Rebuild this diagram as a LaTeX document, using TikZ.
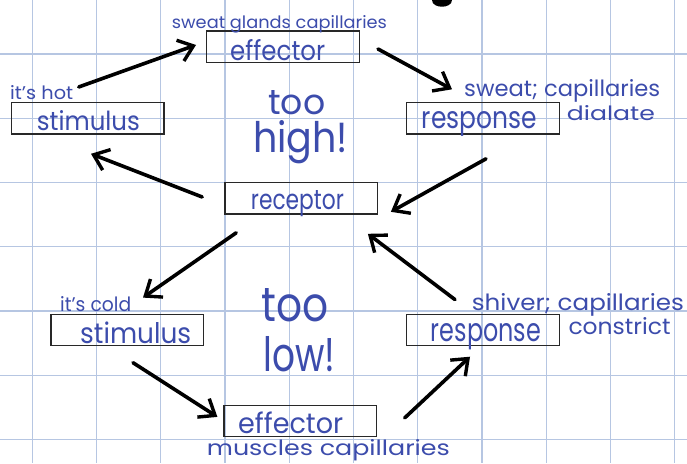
\documentclass[tikz,border=0pt]{standalone}
\usepackage{fontspec}
\setmainfont{Poppins}
\usetikzlibrary{arrows.meta}
\definecolor{ink}{RGB}{60,76,172}
\definecolor{gridc}{RGB}{182,198,226}
\definecolor{boxc}{RGB}{40,40,40}
\newcommand{\hw}[3]{\resizebox{#1pt}{#2pt}{#3}}
\begin{document}
\begin{tikzpicture}[x=1pt,y=-1pt,
  box/.style={draw=boxc,line width=1.4pt,minimum width=152.6pt,minimum height=31.4pt,inner sep=0pt},
  txt/.style={text=ink,inner sep=0pt,anchor=base west},
  arr/.style={line width=3.6pt,line cap=round,line join=round,
    -{Straight Barb[length=14pt,width=22pt,line width=3.4pt]}}]
\useasboundingbox (0,0) rectangle (687,463);
\fill[white] (0,0) rectangle (687,463);
% grid paper
\foreach \i in {0,...,10}
  \draw[gridc,line width=1.2pt] ({32.3+64.25*\i},0) -- ({32.3+64.25*\i},463);
\foreach \j in {0,...,6}
  \draw[gridc,line width=1.2pt] (0,{54+64.25*\j}) -- (687,{54+64.25*\j});
% stray mark at top
\fill[black] (432,0) .. controls (432,9) and (452,9) .. (452,0) -- cycle;
% boxes
\node[box] (eff1)  at (283,46.5)   {};
\node[box] (stim1) at (87.7,118.4) {};
\node[box] (resp1) at (483,118.4)  {};
\node[box] (rec)   at (301.2,198.4){};
\node[box] (stim2) at (127.3,330)  {};
\node[box] (eff2)  at (300.4,420.9){};
\node[box] (resp2) at (483,330)    {};
% labels
\node[txt] (teff1)  at (230,60)    {\hw{95}{21}{effector}};
\node[txt] (tsg)    at (171.7,28.3){\hw{215}{13}{sweat glands capillaries}};
\node[txt] (tstim1) at (36.7,130)  {\hw{103}{20}{stimulus}};
\node[txt] (thot)   at (10,99)     {\hw{63}{14}{it's hot}};
\node[txt] (ttoo1)  at (268,114.5) {\hw{57}{24}{too}};
\node[txt] (thigh)  at (253,152)   {\hw{95}{32}{high!}};
\node[txt] (tresp1) at (421.7,128.3){\hw{115}{17}{response}};
\node[txt] (tsw)    at (464,96.7)  {\hw{196}{17}{sweat; capillaries}};
\node[txt] (tdia)   at (566.7,120) {\hw{88}{15}{dialate}};
\node[txt] (trec)   at (250.7,209.3){\hw{93}{19}{receptor}};
\node[txt] (tcold)  at (60,311)    {\hw{71}{15}{it's cold}};
\node[txt] (tstim2) at (80,343.3)  {\hw{111}{21.6}{stimulus}};
\node[txt] (ttoo2)  at (261.7,321) {\hw{67}{33}{too}};
\node[txt] (tlow)   at (263,371.7) {\hw{72}{35}{low!}};
\node[txt] (teff2)  at (238,433.3) {\hw{105}{21.6}{effector}};
\node[txt] (tmus)   at (206.7,455.5) {\hw{243}{16}{muscles capillaries}};
\node[txt] (tresp2) at (430.7,341.7){\hw{110}{18}{response}};
\node[txt] (tshiv)  at (471.7,310) {\hw{212}{17}{shiver; capillaries}};
\node[txt] (tcon)   at (568.3,334) {\hw{102}{17}{constrict}};
% arrows
\draw[arr] ([shift={(-9,-15)}]stim1.north) -- ([shift={(-10,-1.5)}]eff1.west);
\draw[arr] ([shift={(18,2.5)}]eff1.east) -- ([shift={(-31,-12.7)}]resp1.north);
\draw[arr] ([shift={(3,24)}]resp1.south) -- ([shift={(12.7,-3)}]rec.south east);
\draw[arr] ([shift={(-22,-1.4)}]rec.west) -- ([shift={(3.3,19)}]stim1.south);
\draw[arr] ([shift={(12,18)}]rec.south west) -- ([shift={(15.7,-16)}]stim2.north);
\draw[arr] ([shift={(5.7,16.3)}]stim2.south) -- ([shift={(-6,-4)}]eff2.west);
\draw[arr] ([shift={(27.3,-3)}]eff2.east) -- ([shift={(-13,10.3)}]resp2.south);
\draw[arr] ([shift={(-28,-14)}]resp2.north) -- ([shift={(-10.3,19)}]rec.south east);
\end{tikzpicture}
\end{document}
